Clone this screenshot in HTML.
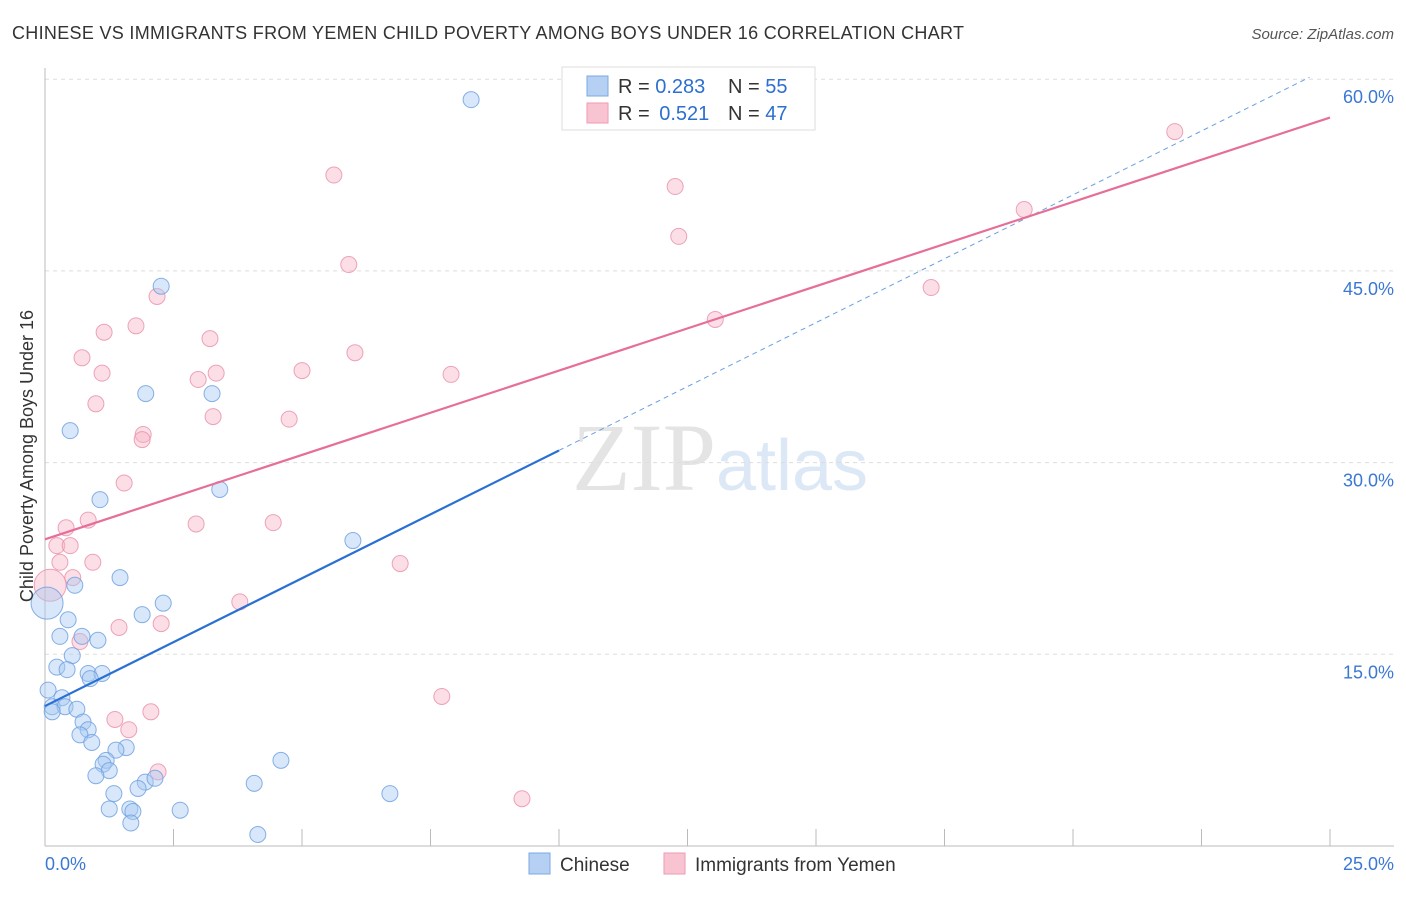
<!DOCTYPE html>
<html><head><meta charset="utf-8"><style>
body{margin:0;background:#fff;font-family:"Liberation Sans",sans-serif;}
svg text{font-family:"Liberation Sans",sans-serif;}
</style></head><body>
<svg id="chart" width="1406" height="892">
<text x="12" y="39" font-size="18" fill="#333" textLength="952" lengthAdjust="spacing">CHINESE VS IMMIGRANTS FROM YEMEN CHILD POVERTY AMONG BOYS UNDER 16 CORRELATION CHART</text>
<text x="1394" y="39" font-size="15" fill="#555" font-style="italic" text-anchor="end">Source: ZipAtlas.com</text>
<text x="720" y="490" font-size="96" fill="#e4e4e4" text-anchor="middle" font-family="Liberation Serif"><tspan font-family="Liberation Serif">ZIP</tspan><tspan fill="#dce8f6" font-family="Liberation Sans" font-size="72">atlas</tspan></text>
<g id="grid"></g><g id="axes"></g><g id="pts"></g><g id="lines"></g>
<text transform="translate(33,456) rotate(-90)" font-size="18" fill="#333" text-anchor="middle">Child Poverty Among Boys Under 16</text>
<text x="45" y="870" font-size="18" fill="#3a78d4">0.0%</text>
<text x="1394" y="870" font-size="18" fill="#3a78d4" text-anchor="end">25.0%</text>
<g>
<rect x="562" y="67" width="253" height="63" fill="#fff" stroke="#ddd"/>
<rect x="587" y="76" width="21" height="20" fill="#b6d0f4" stroke="#7aa8e4"/>
<rect x="587" y="103" width="21" height="20" fill="#f9c4d2" stroke="#ee9ab4"/>
<text x="618" y="93" font-size="20" fill="#333">R = <tspan fill="#2d6fd0">0.283</tspan></text>
<text x="728" y="93" font-size="20" fill="#333">N = <tspan fill="#2d6fd0">55</tspan></text>
<text x="618" y="120" font-size="20" fill="#333">R = <tspan fill="#2d6fd0" dx="4">0.521</tspan></text>
<text x="728" y="120" font-size="20" fill="#333">N = <tspan fill="#2d6fd0">47</tspan></text>
</g>
<g>
<rect x="529" y="853" width="21" height="21" fill="#b6d0f4" stroke="#7aa8e4"/>
<text x="560" y="871" font-size="19" fill="#333">Chinese</text>
<rect x="664" y="853" width="21" height="21" fill="#f9c4d2" stroke="#ee9ab4"/>
<text x="695" y="871" font-size="19" fill="#333">Immigrants from Yemen</text>
</g>
</svg>
<script>
const yTicks=[15,30,45,60];
const yTickLabels=["15.0%","30.0%","45.0%","60.0%"];
const blueX=[8.29,2.26,1.96,3.25,0.49,3.40,1.07,5.99,1.46,0.58,0.04,2.30,1.89,0.45,0.29,0.72,1.03,0.53,0.23,0.43,0.84,1.11,0.88,0.06,0.33,0.14,0.39,0.14,0.62,0.74,0.84,0.68,0.91,1.58,1.38,1.19,1.13,1.25,0.99,4.59,1.95,2.14,1.81,1.34,4.07,6.71,1.25,1.65,1.71,2.63,1.67,4.14];
const blueY=[58.4,43.8,35.4,35.4,32.5,27.9,27.1,23.9,21.0,20.4,19.0,19.0,18.1,17.7,16.4,16.4,16.1,14.9,14.0,13.8,13.5,13.5,13.1,12.2,11.6,10.9,10.9,10.5,10.7,9.7,9.1,8.7,8.1,7.7,7.5,6.7,6.4,5.9,5.5,6.7,5.0,5.3,4.5,4.1,4.9,4.1,2.9,2.9,2.7,2.8,1.8,0.9];
const pinkX=[21.98,5.62,12.26,12.33,19.05,5.91,2.18,17.24,13.04,1.77,1.15,3.21,6.03,0.72,1.11,5.00,7.90,3.33,2.98,0.99,3.27,4.75,1.91,1.89,1.54,0.84,0.41,2.94,4.44,0.23,0.49,0.93,0.29,6.91,0.54,0.10,3.79,2.26,1.44,0.68,7.72,2.06,1.36,1.63,2.20,9.28];
const pinkY=[55.9,52.5,51.6,47.7,49.8,45.5,43.0,43.7,41.2,40.7,40.2,39.7,38.6,38.2,37.0,37.2,36.9,37.0,36.5,34.6,33.6,33.4,32.2,31.8,28.4,25.5,24.9,25.2,25.3,23.5,23.5,22.2,22.2,22.1,21.0,20.4,19.1,17.4,17.1,16.0,11.7,10.5,9.9,9.1,5.8,3.7];
const blueBig=[10];const pinkBig=[35];
const blueLine=[10.95,2.0];const pinkLine=[24.0,1.32];
const X=v=>45+v*51.4, Y=v=>846-v*12.78;
const NS="http://www.w3.org/2000/svg";
function mk(p,t,a){const e=document.createElementNS(NS,t);for(const k in a)e.setAttribute(k,a[k]);document.getElementById(p).appendChild(e);return e;}
yTicks.forEach((t,i)=>{
 let g=mk('grid','line',{x1:45,x2:1394,y1:Y(t),y2:Y(t),stroke:'#ddd','stroke-dasharray':'4,4'});
 
 
 let l=mk('grid','text',{x:1394,y:Y(t)+24,'font-size':18,fill:'#3a78d4','text-anchor':'end'});l.textContent=yTickLabels[i];
 
 
});
mk('axes','line',{x1:45,x2:45,y1:68,y2:846,stroke:'#bbb'});
mk('axes','line',{x1:45,x2:1394,y1:846,y2:846,stroke:'#bbb'});
for(let i=0;i<=10;i++){let t=mk('axes','line',{x1:X(i*2.5),x2:X(i*2.5),y1:829,y2:846,stroke:'#bbb'});
 
 }
function pts(xs,ys,big,f,s,n){xs.forEach((x,i)=>{let c=mk('pts','circle',{cx:X(x),cy:Y(ys[i]),r:big.includes(i)?16:8,fill:f,'fill-opacity':0.45,stroke:s,'stroke-width':1,'stroke-opacity':0.8});
 
 });}
pts(pinkX,pinkY,pinkBig,'#f7b6c8','#ea8ea8','yemen-point');
pts(blueX,blueY,blueBig,'#a9c9f2','#6a9ee0','chinese-point');
let bl=mk('lines','line',{x1:X(0),y1:Y(blueLine[0]),x2:X(10),y2:Y(blueLine[0]+10*blueLine[1]),stroke:'#2a70d4','stroke-width':2.2});


let bd=mk('lines','line',{x1:X(10),y1:Y(blueLine[0]+10*blueLine[1]),x2:X(24.6),y2:Y(blueLine[0]+24.6*blueLine[1]),stroke:'#6a9ee0','stroke-width':1,'stroke-dasharray':'5,4'});


let pl=mk('lines','line',{x1:X(0),y1:Y(pinkLine[0]),x2:X(25),y2:Y(pinkLine[0]+25*pinkLine[1]),stroke:'#e66e98','stroke-width':2.2});


</script>
</body></html>
